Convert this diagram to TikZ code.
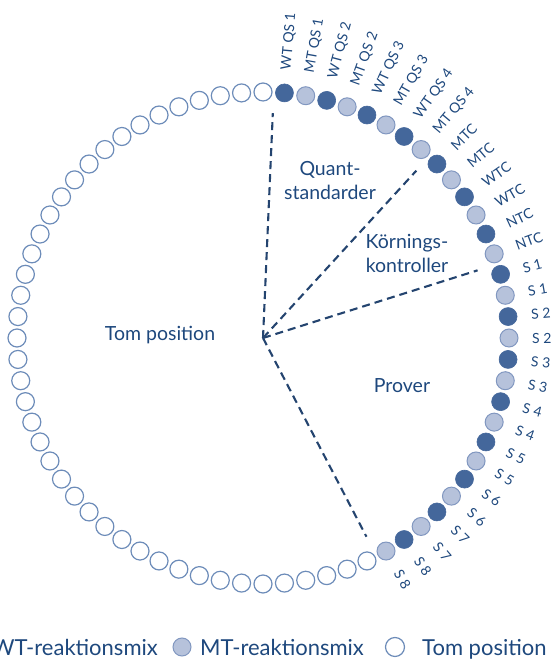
\documentclass[tikz,border=0pt]{standalone}
\usepackage{fontspec}
\setmainfont{Lato}
\usetikzlibrary{calc}
\definecolor{txtblue}{HTML}{1E487D}
\definecolor{dashblue}{HTML}{24446F}
\definecolor{darkwell}{HTML}{44679B}
\definecolor{lightfill}{HTML}{B6C2DB}
\definecolor{lightdraw}{HTML}{8197C0}
\definecolor{emptydraw}{HTML}{6D8CB9}
\begin{document}
\begin{tikzpicture}[x=1pt,y=1pt,
  wellD/.style={circle,minimum size=18pt,inner sep=0pt,fill=darkwell,draw=darkwell,line width=0.6pt},
  wellL/.style={circle,minimum size=18pt,inner sep=0pt,fill=lightfill,draw=lightdraw,line width=1pt},
  wellE/.style={circle,minimum size=18pt,inner sep=0pt,fill=white,draw=emptydraw,line width=1.2pt},
  lab/.style={text=txtblue,inner sep=0pt,font=\fontsize{14}{16}\selectfont},
  area/.style={text=txtblue,inner sep=0pt,align=center,font=\fontsize{19.5}{24}\selectfont},
  legtext/.style={text=txtblue,inner sep=0pt,font=\fontsize{22}{26}\selectfont},
  dashline/.style={draw=dashblue,line width=2.1pt,dash pattern=on 8pt off 5pt}]
\useasboundingbox (0,0) rectangle (554,660);
\begin{scope}[shift={(263,322)}]
  \coordinate (O) at (0,0);
  % empty positions
  \foreach \j in {0,...,41}{
    \pgfmathsetmacro\a{90+5*\j}
    \node[wellE] (e\j) at (\a:246) {};
  }
  % filled positions with labels
  \foreach [count=\k] \lab in {WT QS 1,MT QS 1,WT QS 2,MT QS 2,WT QS 3,MT QS 3,WT QS 4,MT QS 4,MTC,MTC,WTC,WTC,NTC,NTC,S 1,S 1,S 2,S 2,S 3,S 3,S 4,S 4,S 5,S 5,S 6,S 6,S 7,S 7,S 8,S 8}{
    \pgfmathsetmacro\a{90-5*\k}
    \ifodd\k\def\st{wellD}\else\def\st{wellL}\fi
    \node[\st] (f\k) at (\a:246) {};
    \node[lab,rotate=\a,anchor=west] (l\k) at (\a:269) {\lab};
  }
  % sector dividers
  \coordinate (d1) at (87.5:225);
  \coordinate (d2) at (47.5:227);
  \coordinate (d3) at (17.5:225);
  \coordinate (d4) at (-62.5:224);
  \draw[dashline] (O) -- (d1);
  \draw[dashline] (O) -- (d2);
  \draw[dashline] (O) -- (d3);
  \draw[dashline] (O) -- (d4);
\end{scope}
% sector labels
\node[area] (quant) at (330,479) {Quant-\\standarder};
\node[area] (korn) at (407,407) {Körnings-\\kontroller};
\node[area] (tom) at (160,325) {Tom position};
\node[area] (prov) at (402,274) {Prover};
% legend
\node[legtext,anchor=base east] (t1) at (158,5) {WT-reaktionsmix};
\node[wellD] (k1) at ($(t1.base west)+(-18,8)$) {};
\node[wellL] (k2) at (182,13) {};
\node[legtext,anchor=base west] (t2) at (200,5) {MT-reaktionsmix};
\node[wellE,minimum size=19pt] (k3) at (395,13) {};
\node[legtext,anchor=base west] (t3) at (422,5) {Tom position};
\end{tikzpicture}
\end{document}
